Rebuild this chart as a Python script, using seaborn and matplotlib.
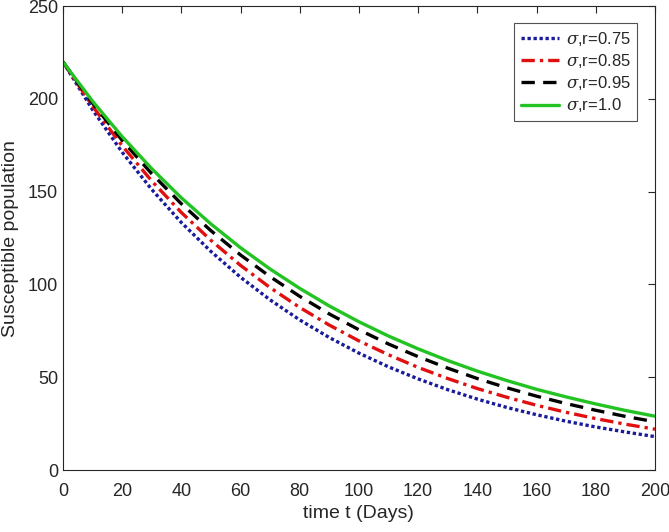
import numpy as np
import pandas as pd
import matplotlib
matplotlib.use("Agg")
import matplotlib.pyplot as plt
import seaborn as sns

# valores (cada 10 dias)
dias = [0, 10, 20, 30, 40, 50, 60, 70, 80, 90, 100,
        110, 120, 130, 140, 150, 160, 170, 180, 190, 200]
s_075 = [220, 194.2, 171.3, 151.2, 133.4, 117.8, 103.9, 91.7, 80.9, 71.4, 63.0,
         55.6, 49.1, 43.3, 38.2, 33.7, 29.8, 26.3, 23.2, 20.5, 18.0]
s_085 = [220, 196.1, 174.8, 155.8, 138.8, 123.8, 110.3, 98.3, 87.6, 78.1, 69.6,
         62.1, 55.3, 49.3, 43.9, 39.2, 34.9, 31.1, 27.7, 24.7, 22.0]
s_095 = [220, 197.7, 177.7, 159.7, 143.5, 129.0, 115.9, 104.2, 93.6, 84.1, 75.6,
         67.9, 61.1, 54.9, 49.3, 44.3, 39.8, 35.8, 32.2, 28.9, 26.0]
s_100 = [220, 198.8, 179.7, 162.4, 146.7, 132.6, 119.8, 108.3, 97.9, 88.4, 79.9,
         72.2, 65.3, 59.0, 53.3, 48.2, 43.5, 39.4, 35.6, 32.1, 29.0]

etiquetas = [r'$\sigma$,r=0.75', r'$\sigma$,r=0.85', r'$\sigma$,r=0.95', r'$\sigma$,r=1.0']
series = [s_075, s_085, s_095, s_100]
colores = ['#1a1a9c', '#e01010', '#000000', '#22c322']
estilos = [(0, (1, 0.8)), (0, (4, 1.5, 1, 1.5)), (0, (4, 2.5)), '-']

sns.set_style("white")
plt.rcParams['font.family'] = ['Liberation Sans', 'DejaVu Sans']
plt.rcParams['mathtext.fontset'] = 'dejavuserif'

fig = plt.figure(figsize=(6.69, 5.32), dpi=100)
ax = fig.add_axes([0.094, 0.1165, 0.885, 0.872])

for vals, lab, col, ls in zip(series, etiquetas, colores, estilos):
    df = pd.DataFrame({'t': dias, 'S': vals})
    sns.lineplot(data=df, x='t', y='S', ax=ax, color=col, linestyle=ls,
                 linewidth=2.4, label=lab)

ax.set_xlim(0, 200)
ax.set_ylim(0, 250)
ax.set_xticks(range(0, 201, 20))
ax.set_yticks(range(0, 251, 50))
ax.tick_params(direction='in', length=5, width=0.8, labelsize=13,
               colors='#262626', top=True, right=True)
ax.tick_params(axis='x', pad=9)
for sp in ax.spines.values():
    sp.set_color('#262626')
    sp.set_linewidth(0.8)
ax.set_xlabel('time t (Days)', fontsize=14, color='#262626', labelpad=4)
ax.set_ylabel('Susceptible population', fontsize=14, color='#262626', labelpad=6)

leg = ax.legend(loc='upper right', bbox_to_anchor=(0.97, 0.963), borderaxespad=0,
                fontsize=12, frameon=True, fancybox=False, handlelength=2.3,
                borderpad=0.4, labelspacing=0.25, handletextpad=0.4)
leg.get_frame().set_edgecolor('#262626')
leg.get_frame().set_linewidth(0.8)

fig.savefig('out.png', dpi=100)
